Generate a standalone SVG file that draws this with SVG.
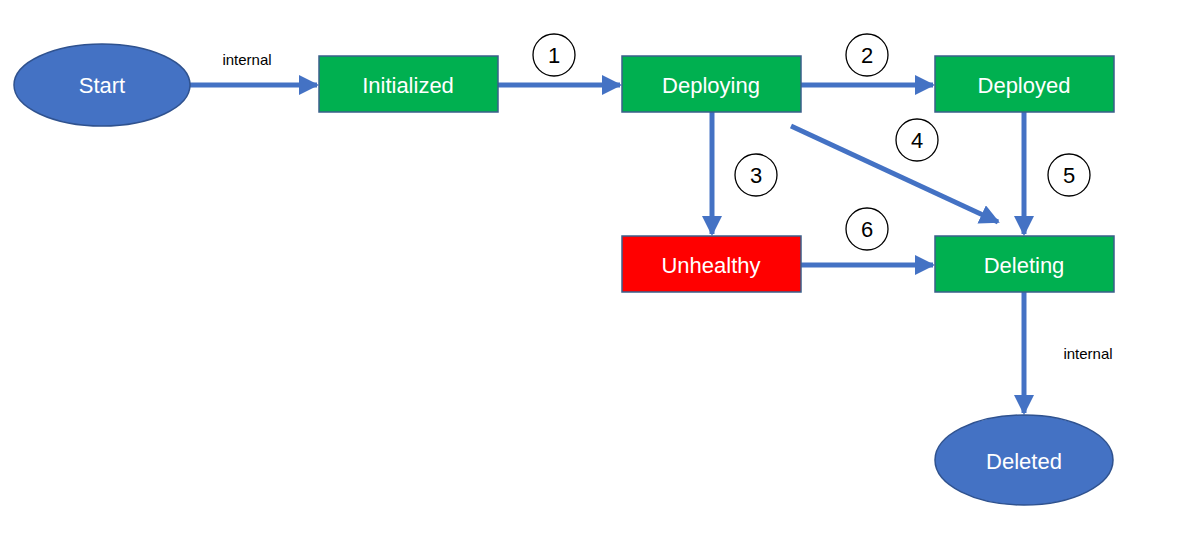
<svg xmlns="http://www.w3.org/2000/svg" width="1182" height="551" viewBox="0 0 1182 551">
<style>
.n{font-family:"Liberation Sans","Open Sans",sans-serif;font-size:22px;fill:#fff;text-anchor:middle;dominant-baseline:central}
.g{fill:#00B050;stroke:#3A5F8A;stroke-width:1.5}
.e{fill:#4472C4;stroke:#2F528F;stroke-width:1.5}
.c{stroke:#4472C4;stroke-width:5;fill:none;marker-end:url(#a)}
.b{fill:#fff;stroke:#000;stroke-width:1.3}
.t{font-family:"Liberation Sans","Open Sans",sans-serif;font-size:22px;fill:#000;text-anchor:middle;dominant-baseline:central}
.l{font-family:"Liberation Sans","Open Sans",sans-serif;font-size:15px;fill:#000;text-anchor:middle}
</style>
<defs><marker id="a" viewBox="0 0 10 10" refX="9" refY="5" markerWidth="4" markerHeight="4" orient="auto" markerUnits="strokeWidth"><path d="M0,0L10,5L0,10z" fill="#4472C4"/></marker></defs>
<rect width="1182" height="551" fill="#fff"/>
<g id="connectors">
<path class="c" d="M190,85H317"/>
<path class="c" d="M498,85H620"/>
<path class="c" d="M801,85H933"/>
<path class="c" d="M712,112V234"/>
<path class="c" d="M791,126L998,222"/>
<path class="c" d="M1024,112V234"/>
<path class="c" d="M801,265H933"/>
<path class="c" d="M1024,292V413"/>
<text class="l" x="247" y="65">internal</text>
<text class="l" x="1088" y="359">internal</text>
<circle class="b" cx="554" cy="55" r="21"/><text class="t" x="554" y="55">1</text>
<circle class="b" cx="867" cy="55" r="21"/><text class="t" x="867" y="55">2</text>
<circle class="b" cx="756" cy="175" r="21"/><text class="t" x="756" y="175">3</text>
<circle class="b" cx="917" cy="140" r="21"/><text class="t" x="917" y="140">4</text>
<circle class="b" cx="1069" cy="175" r="21"/><text class="t" x="1069" y="175">5</text>
<circle class="b" cx="867" cy="229" r="21"/><text class="t" x="867" y="229">6</text>
</g>
<g id="start"><ellipse class="e" cx="102" cy="85" rx="88" ry="41"/><text class="n" x="102" y="85">Start</text></g>
<g id="initialized"><rect class="g" x="319" y="56" width="179" height="56"/><text class="n" x="408" y="85">Initialized</text></g>
<g id="deploying"><rect class="g" x="622" y="56" width="179" height="56"/><text class="n" x="711" y="85">Deploying</text></g>
<g id="deployed"><rect class="g" x="935" y="56" width="179" height="56"/><text class="n" x="1024" y="85">Deployed</text></g>
<g id="unhealthy"><rect x="622" y="236" width="179" height="56" fill="#FF0000" stroke="#3A5F8A" stroke-width="1.5"/><text class="n" x="711" y="265">Unhealthy</text></g>
<g id="deleting"><rect class="g" x="935" y="236" width="179" height="56"/><text class="n" x="1024" y="265">Deleting</text></g>
<g id="deleted"><ellipse class="e" cx="1024" cy="460" rx="89" ry="45"/><text class="n" x="1024" y="461">Deleted</text></g>
</svg>
